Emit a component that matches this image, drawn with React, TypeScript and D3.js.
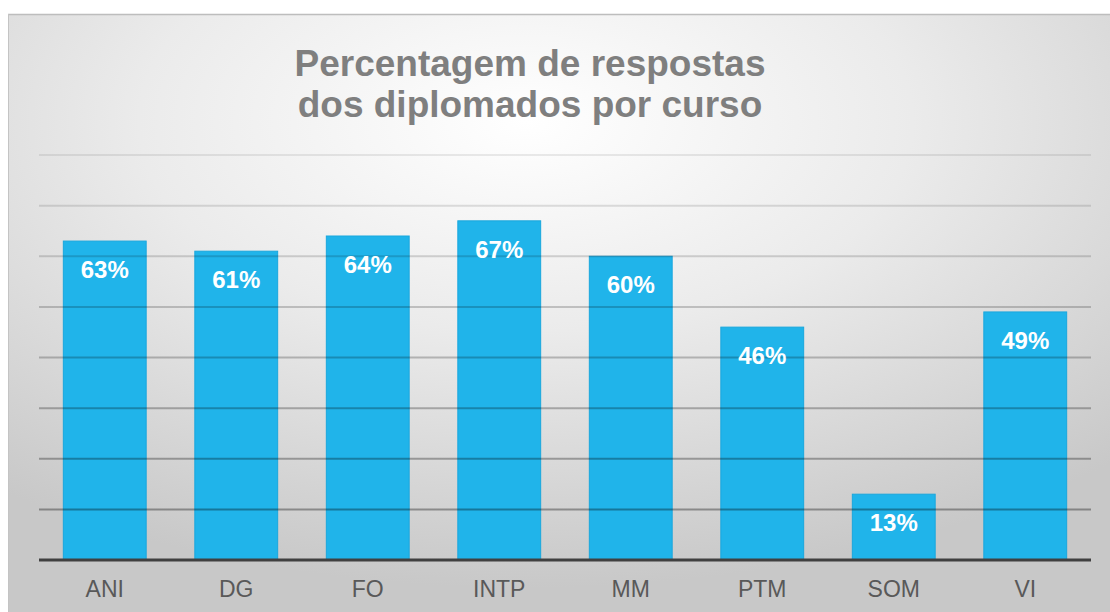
import React from 'react';
import * as d3 from 'd3';

const courses = ['ANI', 'DG', 'FO', 'INTP', 'MM', 'PTM', 'SOM', 'VI'];
const responseRates = [63, 61, 64, 67, 60, 46, 13, 49];
const gridTicks = [10, 20, 30, 40, 50, 60, 70, 80];
const titleLines = ['Percentagem de respostas', 'dos diplomados por curso'];

const W = 1110;
const H = 612;
const plot = { left: 39, right: 1091, top: 155, bottom: 560 };

const App = () => {
  const x = d3
    .scaleBand<string>()
    .domain(courses)
    .range([plot.left, plot.right])
    .paddingInner(0.37)
    .paddingOuter(0.185);

  const y = d3.scaleLinear().domain([0, 80]).range([plot.bottom, plot.top]);

  const rows = courses.map((c, i) => ({ course: c, value: responseRates[i] }));

  return (
    <svg
      width={W}
      height={H}
      style={{ position: 'absolute', left: 0, top: 0, fontFamily: '"Liberation Sans", Arial, sans-serif' }}
    >
      <defs>
        <radialGradient id="bg" cx="0.47" cy="0.18" r="0.78">
          <stop offset="0" stopColor="#ffffff" />
          <stop offset="0.45" stopColor="#ebebeb" />
          <stop offset="1" stopColor="#c8c8c8" />
        </radialGradient>
      </defs>

      <rect x={0} y={0} width={W} height={H} fill="#ffffff" />
      <rect x={8} y={14} width={W - 8} height={H - 14} fill="url(#bg)" />
      <line x1={8} x2={W} y1={14.5} y2={14.5} stroke="#bdbdbd" strokeWidth={1.5} />
      <line x1={8.5} x2={8.5} y1={14} y2={H} stroke="#c4c4c4" strokeWidth={1} />

      {/* title */}
      {titleLines.map((t, i) => (
        <text
          key={t}
          x={530}
          y={76 + i * 41}
          textAnchor="middle"
          fontSize={37}
          fontWeight="bold"
          fill="#7f7f7f"
        >
          {t}
        </text>
      ))}

      {/* bars */}
      {rows.map((d) => (
        <rect
          key={d.course}
          x={x(d.course)}
          y={y(d.value)}
          width={x.bandwidth()}
          height={plot.bottom - y(d.value)}
          fill="#20b4ea"
          stroke="#19a7dd"
          strokeWidth={1}
        />
      ))}

      {/* gridlines drawn over the bars, fading toward the top */}
      {gridTicks.map((v) => (
        <line
          key={v}
          x1={plot.left}
          x2={plot.right}
          y1={y(v)}
          y2={y(v)}
          stroke="#000000"
          strokeOpacity={0.34 - ((v - 10) / 70) * 0.26}
          strokeWidth={2}
        />
      ))}

      {/* baseline */}
      <line
        x1={plot.left}
        x2={plot.right}
        y1={plot.bottom}
        y2={plot.bottom}
        stroke="#404040"
        strokeWidth={3}
      />

      {/* value labels */}
      {rows.map((d) => (
        <text
          key={d.course}
          x={(x(d.course) ?? 0) + x.bandwidth() / 2}
          y={y(d.value) + 37}
          textAnchor="middle"
          fontSize={24}
          fontWeight="bold"
          fill="#ffffff"
        >
          {d.value}%
        </text>
      ))}

      {/* category labels */}
      {courses.map((c) => (
        <text
          key={c}
          x={(x(c) ?? 0) + x.bandwidth() / 2}
          y={597}
          textAnchor="middle"
          fontSize={23}
          fill="#595959"
        >
          {c}
        </text>
      ))}
    </svg>
  );
};

export default App;
